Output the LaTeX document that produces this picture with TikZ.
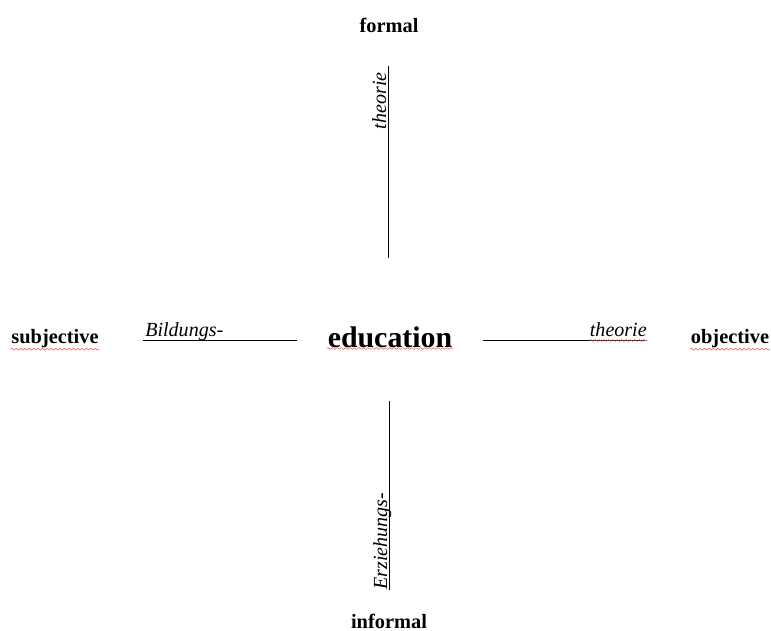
\documentclass[tikz,border=0pt]{standalone}
\usepackage{fontspec}
\setmainfont{Liberation Serif}
\usetikzlibrary{decorations.pathmorphing}

\tikzset{
	pole/.style={font=\fontsize{11.6}{14}\selectfont\bfseries},
	part/.style={font=\fontsize{11.4}{14}\selectfont\itshape, inner sep=0pt},
	spell/.style={red!70, line width=0.3pt, decorate, decoration={snake, amplitude=0.5pt, segment length=2.5pt}}
}

\begin{document}
\begin{tikzpicture}[x=0.02cm, y=-0.02cm]
	\useasboundingbox (0,0) rectangle (771,631);
	\node[pole] (formal) at (389,25) {formal};
	\node[pole] (informal) at (389,621) {informal};
	\node[pole] (subj) at (55,339) {subjective};
	\node[pole] (obj) at (730,339) {objective};
	\node[font=\fontsize{17}{20}\selectfont\bfseries] (edu) at (390,337) {education};
	% axis lines
	\coordinate (t1) at (388,66);
	\coordinate (t2) at (388,258);
	\coordinate (b1) at (389,401);
	\coordinate (b2) at (389,590);
	\coordinate (l1) at (143,340);
	\coordinate (l2) at (297,340);
	\coordinate (r1) at (483,340);
	\coordinate (r2) at (647,340);
	\draw[-] (t1) to (t2);
	\draw[-] (b1) to (b2);
	\draw[-] (l1) to (l2);
	\draw[-] (r1) to (r2);
	% word parts
	\node[part, rotate=90, anchor=base east] (theo1) at (386,72) {theorie};
	\node[part, rotate=90, anchor=base west] (erz) at (387,590) {Erziehungs-};
	\node[part, anchor=base west] (bild) at (145,337) {Bildungs-};
	\node[part, anchor=base east] (theo2) at (647,337) {theorie};
	% spell marks
	\draw[spell] ([xshift=3pt, yshift=3pt]subj.south west) -- ([xshift=-3pt, yshift=3pt]subj.south east);
	\draw[spell] ([xshift=3pt, yshift=3pt]edu.south west) -- ([xshift=-3pt, yshift=3pt]edu.south east);
	\draw[spell] ([yshift=-2pt]theo2.base west) -- ([yshift=-2pt]theo2.base east);
	\draw[spell] ([xshift=3pt, yshift=3pt]obj.south west) -- ([xshift=-3pt, yshift=3pt]obj.south east);
\end{tikzpicture}
\end{document}
